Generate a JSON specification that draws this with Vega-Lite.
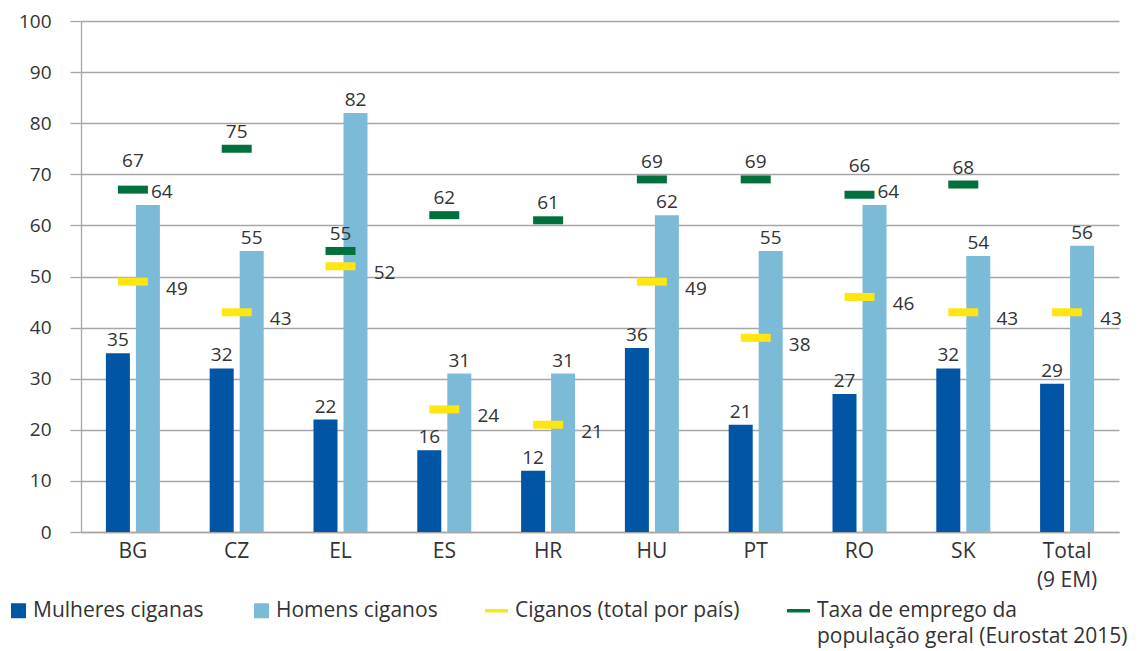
{
  "$schema": "https://vega.github.io/schema/vega-lite/v6.json",
  "width": 1038,
  "height": 511,
  "autosize": {"type": "none"},
  "padding": {"left": 81, "top": 21, "right": 20, "bottom": 119},
  "config": {
    "font": "Open Sans",
    "view": {"stroke": null},
    "text": {"font": "Open Sans"}
  },
  "data": {
    "values": [
      {"pais": "BG", "serie": "Mulheres ciganas", "valor": 35},
      {"pais": "CZ", "serie": "Mulheres ciganas", "valor": 32},
      {"pais": "EL", "serie": "Mulheres ciganas", "valor": 22},
      {"pais": "ES", "serie": "Mulheres ciganas", "valor": 16},
      {"pais": "HR", "serie": "Mulheres ciganas", "valor": 12},
      {"pais": "HU", "serie": "Mulheres ciganas", "valor": 36},
      {"pais": "PT", "serie": "Mulheres ciganas", "valor": 21},
      {"pais": "RO", "serie": "Mulheres ciganas", "valor": 27},
      {"pais": "SK", "serie": "Mulheres ciganas", "valor": 32},
      {"pais": "Total (9 EM)", "serie": "Mulheres ciganas", "valor": 29},
      {"pais": "BG", "serie": "Homens ciganos", "valor": 64},
      {"pais": "CZ", "serie": "Homens ciganos", "valor": 55},
      {"pais": "EL", "serie": "Homens ciganos", "valor": 82},
      {"pais": "ES", "serie": "Homens ciganos", "valor": 31},
      {"pais": "HR", "serie": "Homens ciganos", "valor": 31},
      {"pais": "HU", "serie": "Homens ciganos", "valor": 62},
      {"pais": "PT", "serie": "Homens ciganos", "valor": 55},
      {"pais": "RO", "serie": "Homens ciganos", "valor": 64},
      {"pais": "SK", "serie": "Homens ciganos", "valor": 54},
      {"pais": "Total (9 EM)", "serie": "Homens ciganos", "valor": 56},
      {"pais": "BG", "serie": "Ciganos (total por país)", "valor": 49},
      {"pais": "CZ", "serie": "Ciganos (total por país)", "valor": 43},
      {"pais": "EL", "serie": "Ciganos (total por país)", "valor": 52},
      {"pais": "ES", "serie": "Ciganos (total por país)", "valor": 24},
      {"pais": "HR", "serie": "Ciganos (total por país)", "valor": 21},
      {"pais": "HU", "serie": "Ciganos (total por país)", "valor": 49},
      {"pais": "PT", "serie": "Ciganos (total por país)", "valor": 38},
      {"pais": "RO", "serie": "Ciganos (total por país)", "valor": 46},
      {"pais": "SK", "serie": "Ciganos (total por país)", "valor": 43},
      {"pais": "Total (9 EM)", "serie": "Ciganos (total por país)", "valor": 43},
      {"pais": "BG", "serie": "Taxa de emprego da população geral (Eurostat 2015)", "valor": 67},
      {"pais": "CZ", "serie": "Taxa de emprego da população geral (Eurostat 2015)", "valor": 75},
      {"pais": "EL", "serie": "Taxa de emprego da população geral (Eurostat 2015)", "valor": 55},
      {"pais": "ES", "serie": "Taxa de emprego da população geral (Eurostat 2015)", "valor": 62},
      {"pais": "HR", "serie": "Taxa de emprego da população geral (Eurostat 2015)", "valor": 61},
      {"pais": "HU", "serie": "Taxa de emprego da população geral (Eurostat 2015)", "valor": 69},
      {"pais": "PT", "serie": "Taxa de emprego da população geral (Eurostat 2015)", "valor": 69},
      {"pais": "RO", "serie": "Taxa de emprego da população geral (Eurostat 2015)", "valor": 66},
      {"pais": "SK", "serie": "Taxa de emprego da população geral (Eurostat 2015)", "valor": 68}
    ]
  },
  "encoding": {
    "x": {
      "field": "pais",
      "type": "nominal",
      "sort": null,
      "scale": {"paddingInner": 0, "paddingOuter": 0},
      "axis": {
        "title": null,
        "labelAngle": 0,
        "labelFontSize": 21,
        "labelColor": "#333333",
        "labelPadding": 8,
        "ticks": false,
        "domainColor": "#a6a6a6",
        "domainWidth": 1.3,
        "labelLineHeight": 29,
        "labelBaseline": "top",
        "labelExpr": "datum.value == 'Total (9 EM)' ? ['Total', '(9 EM)'] : datum.value"
      }
    },
    "y": {
      "field": "valor",
      "type": "quantitative",
      "scale": {"domain": [0, 100], "nice": false},
      "axis": {
        "title": null,
        "values": [0, 10, 20, 30, 40, 50, 60, 70, 80, 90, 100],
        "labelFontSize": 19,
        "labelColor": "#333333",
        "labelPadding": 19,
        "tickSize": 11,
        "tickColor": "#a6a6a6",
        "tickWidth": 1.3,
        "gridColor": "#a6a6a6",
        "gridWidth": 1.3,
        "domainColor": "#a6a6a6",
        "domainWidth": 1.3
      }
    }
  },
  "layer": [
    {
      "transform": [{"filter": "datum.serie == 'Mulheres ciganas' || datum.serie == 'Homens ciganos'"}],
      "mark": {"type": "bar"},
      "encoding": {
        "xOffset": {
          "field": "serie",
          "type": "nominal",
          "scale": {"domain": ["Mulheres ciganas", "Homens ciganos"], "paddingInner": 0.2, "paddingOuter": 0.83}
        },
        "color": {
          "field": "serie",
          "type": "nominal",
          "scale": {
            "domain": ["Mulheres ciganas", "Homens ciganos", "Ciganos (total por país)", "Taxa de emprego da população geral (Eurostat 2015)"],
            "range": ["#0055a4", "#7cbbd7", "#ffe512", "#00713d"]
          },
          "legend": {
            "orient": "none",
            "legendX": -73,
            "legendY": 579,
            "direction": "horizontal",
            "columns": 4,
            "columnPadding": 47,
            "title": null,
            "labelFontSize": 21,
            "labelColor": "#333333",
            "labelFont": "Open Sans",
            "labelLimit": 400,
            "labelOffset": 4,
            "symbolSize": 225,
            "symbolStrokeWidth": 0,
            "symbolOpacity": 1,
            "labelExpr": "datum.label == 'Taxa de emprego da população geral (Eurostat 2015)' ? ['Taxa de emprego da', 'população geral (Eurostat 2015)'] : [datum.label, ' ']",
            "encode": {
              "symbols": {
                "update": {
                  "shape": {"signal": "(datum.value == 'Ciganos (total por país)' || datum.value == 'Taxa de emprego da população geral (Eurostat 2015)') ? 'M-1.53,-0.23H1.53V0.23H-1.53Z' : 'square'"}
                }
              },
              "labels": {
                "update": {
                  "lineHeight": {"value": 26},
                  "dx": {"signal": "(datum.value == 'Ciganos (total por país)' || datum.value == 'Taxa de emprego da população geral (Eurostat 2015)') ? 4 : 0"}
                }
              }
            }
          }
        }
      }
    },
    {
      "transform": [{"filter": "datum.serie == 'Ciganos (total por país)' || datum.serie == 'Taxa de emprego da população geral (Eurostat 2015)'"}],
      "mark": {"type": "tick", "size": 30, "thickness": 8, "opacity": 1},
      "encoding": {
        "color": {"field": "serie", "type": "nominal"}
      }
    },
    {
      "transform": [{"filter": "datum.serie == 'Mulheres ciganas'"}],
      "mark": {"type": "text", "baseline": "bottom", "dx": -15, "dy": -3, "fontSize": 19, "color": "#333333"},
      "encoding": {
        "text": {"field": "valor", "type": "quantitative"}
      }
    },
    {
      "transform": [
        {"pivot": "serie", "value": "valor", "groupby": ["pais"]},
        {"filter": "!isValid(datum['Taxa de emprego da população geral (Eurostat 2015)']) || abs(datum['Homens ciganos'] - datum['Taxa de emprego da população geral (Eurostat 2015)']) >= 5"}
      ],
      "mark": {"type": "text", "baseline": "bottom", "dx": 15, "dy": -3, "fontSize": 19, "color": "#333333"},
      "encoding": {
        "y": {"field": "Homens ciganos", "type": "quantitative"},
        "text": {"field": "Homens ciganos", "type": "quantitative"}
      }
    },
    {
      "transform": [
        {"pivot": "serie", "value": "valor", "groupby": ["pais"]},
        {"filter": "isValid(datum['Taxa de emprego da população geral (Eurostat 2015)']) && abs(datum['Homens ciganos'] - datum['Taxa de emprego da população geral (Eurostat 2015)']) < 5"}
      ],
      "mark": {"type": "text", "baseline": "bottom", "align": "left", "dx": 18, "dy": -3, "fontSize": 19, "color": "#333333"},
      "encoding": {
        "y": {"field": "Homens ciganos", "type": "quantitative"},
        "text": {"field": "Homens ciganos", "type": "quantitative"}
      }
    },
    {
      "transform": [{"filter": "datum.serie == 'Ciganos (total por país)'"}],
      "mark": {"type": "text", "baseline": "middle", "dx": 44, "dy": 7, "fontSize": 19, "color": "#333333"},
      "encoding": {
        "text": {"field": "valor", "type": "quantitative"}
      }
    },
    {
      "transform": [
        {"pivot": "serie", "value": "valor", "groupby": ["pais"]},
        {"filter": "isValid(datum['Taxa de emprego da população geral (Eurostat 2015)']) && abs(datum['Homens ciganos'] - datum['Taxa de emprego da população geral (Eurostat 2015)']) >= 5"}
      ],
      "mark": {"type": "text", "baseline": "bottom", "dy": -7, "fontSize": 19, "color": "#333333"},
      "encoding": {
        "y": {"field": "Taxa de emprego da população geral (Eurostat 2015)", "type": "quantitative"},
        "text": {"field": "Taxa de emprego da população geral (Eurostat 2015)", "type": "quantitative"}
      }
    },
    {
      "transform": [
        {"pivot": "serie", "value": "valor", "groupby": ["pais"]},
        {"filter": "isValid(datum['Taxa de emprego da população geral (Eurostat 2015)']) && abs(datum['Homens ciganos'] - datum['Taxa de emprego da população geral (Eurostat 2015)']) < 5"}
      ],
      "mark": {"type": "text", "baseline": "bottom", "dy": -19, "fontSize": 19, "color": "#333333"},
      "encoding": {
        "y": {"field": "Taxa de emprego da população geral (Eurostat 2015)", "type": "quantitative"},
        "text": {"field": "Taxa de emprego da população geral (Eurostat 2015)", "type": "quantitative"}
      }
    }
  ]
}
